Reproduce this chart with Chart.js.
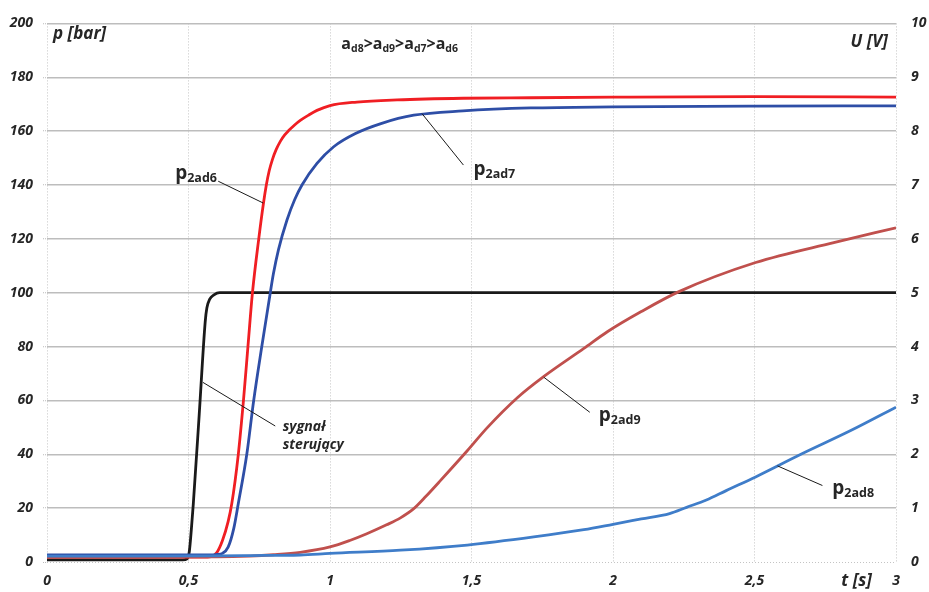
<!DOCTYPE html>
<html><head><meta charset="utf-8">
<script src="https://cdn.jsdelivr.net/npm/chart.js@4.4.0/dist/chart.umd.min.js"></script>
<style>html,body{margin:0;padding:0;background:#fff;}#wrap{width:929px;height:592px;position:relative;}</style>
</head><body><div id="wrap"><canvas id="c" width="929" height="592"></canvas></div>
<script>
// ---- data ----
const xTickLabels = ['0', '0,5', '1', '1,5', '2', '2,5', '3'];
const yTickLabels = ['0','20','40','60','80','100','120','140','160','180','200'];
const y2TickLabels = ['0','1','2','3','4','5','6','7','8','9','10'];

// control signal U [V]
const tU = [0, 0.48, 0.495, 0.503, 0.51, 0.517, 0.538, 0.559, 0.565, 0.575, 0.59, 0.61, 1.0, 2.0, 3.0];
const vU = [0.04, 0.04, 0.06, 0.2, 0.6, 1.08, 2.75, 4.46, 4.72, 4.88, 4.96, 5.0, 5.0, 5.0, 5.0];

// p2ad6 [bar]
const tAd6 = [0, 0.55, 0.58, 0.6, 0.62, 0.64, 0.653, 0.676, 0.694, 0.71, 0.726, 0.748, 0.765, 0.775, 0.785, 0.797, 0.81, 0.825, 0.84, 0.854, 0.875, 0.895, 0.925, 0.954, 1.0, 1.095, 1.237, 1.47, 1.71, 2.0, 2.5, 3.0];
const pAd6 = [1.8, 1.8, 2.0, 3.5, 8, 15, 21.7, 40, 59.7, 80, 100, 119.8, 133.3, 140, 145.2, 149.6, 153.2, 156.3, 158.6, 160.2, 162.3, 164, 166, 167.7, 169.5, 170.8, 171.6, 172.2, 172.4, 172.6, 172.8, 172.6];

// p2ad7 [bar]
const tAd7 = [0, 0.58, 0.6, 0.62, 0.64, 0.66, 0.676, 0.706, 0.73, 0.759, 0.789, 0.80, 0.818, 0.848, 0.875, 0.901, 0.954, 1.013, 1.09, 1.18, 1.296, 1.47, 1.71, 2.0, 2.5, 3.0];
const pAd7 = [2.6, 2.6, 2.8, 3.2, 5.5, 12.5, 21.7, 40, 59.7, 80, 100, 107, 116, 127, 134.5, 140, 148, 154.2, 159.1, 162.8, 165.9, 167.5, 168.6, 169.0, 169.3, 169.4];

// p2ad9 [bar]
const tAd9 = [0, 0.6, 0.718, 0.8, 0.895, 1.0, 1.07, 1.13, 1.2, 1.249, 1.296, 1.34, 1.39, 1.485, 1.555, 1.661, 1.756, 1.897, 1.98, 2.1, 2.233, 2.504, 2.78, 3.0];
const pAd9 = [1.8, 1.9, 2.2, 2.7, 3.6, 5.6, 8.0, 10.5, 13.8, 16.4, 19.8, 24.5, 30.2, 41.3, 49.8, 60.9, 68.9, 79.3, 85.5, 93, 100.4, 111.2, 118.6, 124.1];

// p2ad8 [bar]
const tAd8 = [0, 0.6, 0.718, 0.895, 1.0, 1.249, 1.485, 1.72, 1.897, 2.0, 2.1, 2.2, 2.26, 2.33, 2.4, 2.504, 2.664, 2.84, 3.0];
const pAd8 = [2.2, 2.3, 2.4, 2.6, 3.2, 4.4, 6.3, 9.3, 12.0, 14.0, 16.0, 18.0, 20.3, 23.0, 26.5, 31.6, 40.0, 48.8, 57.5];

// ---- helpers ----
const pts = (t, v) => t.map((x, i) => ({x: x, y: v[i]}));
const FONT = '"Open Sans", Lato, sans-serif';
const TXT = '#262626';
const tickFont = {family: FONT, size: 14, weight: 'bold', style: 'italic'};

// annotation anchors in data units (t [s], p [bar])
const labels = [
  {base: 'p', sub: '2ad6', at: [0.453, 142.2], line: [[0.605, 141.4], [0.764, 133.3]]},
  {base: 'p', sub: '2ad7', at: [1.507, 143.6], line: [[1.325, 166.5], [1.4715, 147.4]]},
  {base: 'p', sub: '2ad9', at: [1.950, 52.3], line: [[1.7556, 68.6], [1.918, 55.6]]},
  {base: 'p', sub: '2ad8', at: [2.775, 25.4], line: [[2.581, 35.7], [2.740, 28.4]]}
];
const signalLabel = {lines: ['sygnał', 'sterujący'], at: [[0.833, 48.6], [0.833, 42.0]], line: [[0.551, 66.7], [0.8065, 50.5]]};
const titleParts = [['a', 'd8'], ['>', ''], ['a', 'd9'], ['>', ''], ['a', 'd7'], ['>', ''], ['a', 'd6']];

function drawSub(ctx, x, y, base, sub, bf, sf, drop) {
  ctx.font = bf; ctx.fillText(base, x, y); x += ctx.measureText(base).width;
  if (sub) { ctx.font = sf; ctx.fillText(sub, x, y + drop); x += ctx.measureText(sub).width; }
  return x;
}

const annot = {
  id: 'annot',
  afterDatasetsDraw(chart) {
    const ctx = chart.ctx, sx = chart.scales.x, sy = chart.scales.y, ca = chart.chartArea;
    const X = v => sx.getPixelForValue(v), Y = v => sy.getPixelForValue(v);
    ctx.save();
    ctx.fillStyle = TXT; ctx.textBaseline = 'alphabetic'; ctx.textAlign = 'left';
    ctx.strokeStyle = '#1a1a1a'; ctx.lineWidth = 1;
    const segs = labels.map(l => l.line).concat([signalLabel.line]);
    segs.forEach(s => { ctx.beginPath(); ctx.moveTo(X(s[0][0]), Y(s[0][1])); ctx.lineTo(X(s[1][0]), Y(s[1][1])); ctx.stroke(); });
    labels.forEach(l => {
      drawSub(ctx, X(l.at[0]), Y(l.at[1]), l.base, l.sub, 'bold 19px ' + FONT, 'bold 12.5px ' + FONT, 3);
    });
    ctx.font = 'italic bold 14px ' + FONT;
    signalLabel.lines.forEach((s, i) => ctx.fillText(s, X(signalLabel.at[i][0]), Y(signalLabel.at[i][1])));
    let tx = X(1.04), ty = Y(190.4);
    titleParts.forEach(p => { tx = drawSub(ctx, tx, ty, p[0], p[1], 'bold 16px ' + FONT, 'bold 10.5px ' + FONT, 3); });
    ctx.font = 'italic bold 17px ' + FONT;
    ctx.fillText('p [bar]', ca.left + 6, ca.top + 16);
    ctx.textAlign = 'right';
    ctx.fillText('U [V]', ca.right - 8, ca.top + 24);
    ctx.fillText('t [s]', ca.right - 24, ca.bottom + 24);
    ctx.restore();
  }
};

const ds = (label, t, v, color, axis) => ({
  label: label, data: pts(t, v), borderColor: color, backgroundColor: color,
  borderWidth: 2.8, pointRadius: 0, fill: false, cubicInterpolationMode: 'monotone', yAxisID: axis
});

new Chart(document.getElementById('c'), {
  type: 'line',
  data: {
    datasets: [
      ds('p2ad8', tAd8, pAd8, '#3F7DC9', 'y'),
      ds('p2ad9', tAd9, pAd9, '#C0504D', 'y'),
      ds('p2ad7', tAd7, pAd7, '#2E4EA6', 'y'),
      ds('p2ad6', tAd6, pAd6, '#F01E23', 'y'),
      ds('sygnał sterujący', tU, vU, '#1a1a1a', 'y2')
    ]
  },
  options: {
    responsive: false, animation: false, devicePixelRatio: 1,
    layout: {padding: {top: 19, left: 0, right: 0, bottom: 0}},
    plugins: {legend: {display: false}, tooltip: {enabled: false}},
    scales: {
      x: {
        type: 'linear', min: 0, max: 3, position: 'bottom',
        ticks: {stepSize: 0.5, autoSkip: false, maxRotation: 0, padding: 11, color: TXT, font: tickFont,
          callback: v => xTickLabels[Math.round(v / 0.5)]},
        grid: {color: '#c4c4c4', lineWidth: 1, drawTicks: false},
        border: {display: false, dash: [1, 2]},
        afterFit: s => { s.height = 30; }
      },
      y: {
        min: 0, max: 200, position: 'left',
        ticks: {stepSize: 20, padding: 10, color: TXT, font: tickFont, callback: v => yTickLabels[Math.round(v / 20)]},
        grid: {color: c => (c.tick && c.tick.value === 0) ? '#c4c4c4' : '#bdbdbd', lineWidth: c => (c.tick && c.tick.value === 0) ? 1 : 1.5,
          drawTicks: true, tickLength: 4, tickColor: '#bbbbbb', tickWidth: 1, tickBorderDash: [1, 1]},
        border: {display: false, dash: c => (c.tick && c.tick.value === 0) ? [1, 2] : []},
        afterFit: s => { s.width = 47; }
      },
      y2: {
        min: 0, max: 10, position: 'right',
        ticks: {stepSize: 1, padding: 15, color: TXT, font: tickFont, callback: v => y2TickLabels[Math.round(v)]},
        grid: {drawOnChartArea: false, drawTicks: false},
        border: {display: false},
        afterFit: s => { s.width = 33; }
      }
    }
  },
  plugins: [annot]
});
</script></body></html>
